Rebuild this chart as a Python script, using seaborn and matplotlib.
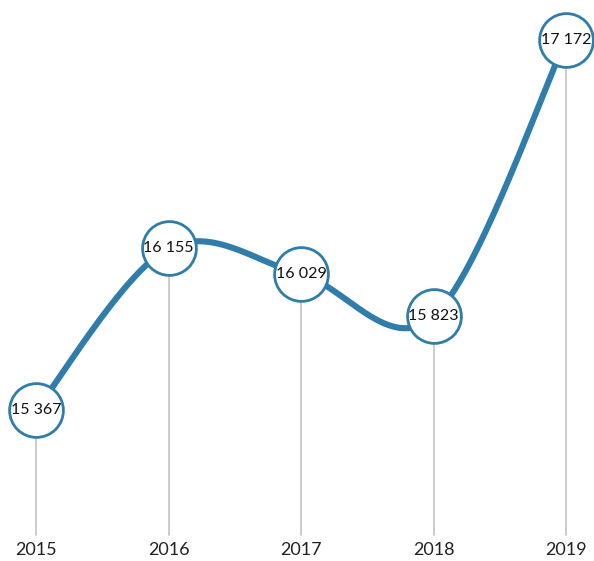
import numpy as np
import pandas as pd
import matplotlib
matplotlib.use("Agg")
import matplotlib.pyplot as plt
import seaborn as sns

years = [2015, 2016, 2017, 2018, 2019]
values = [15367, 16155, 16029, 15823, 17172]
labels = ["15 367", "16 155", "16 029", "15 823", "17 172"]

sns.set_theme(style="white")
plt.rcParams["font.family"] = ["Lato", "DejaVu Sans"]

BLUE = "#2f7dab"

fig = plt.figure(figsize=(5.94, 5.61), dpi=100)
ax = fig.add_axes([0, 0, 1, 1])
ax.set_xlim(2014.728, 2019.211)
ax.set_ylim(14630, 17367)
ax.axis("off")

# Catmull-Rom (cardinal) smoothing of the line between data points
x = np.array(years, dtype=float)
y = np.array(values, dtype=float)
px = np.concatenate([[x[0]], x, [x[-1]]])
py = np.concatenate([[y[0]], y, [y[-1]]])
sx, sy = [], []
for i in range(1, len(px) - 2):
    p0 = np.array([px[i - 1], py[i - 1]])
    p1 = np.array([px[i], py[i]])
    p2 = np.array([px[i + 1], py[i + 1]])
    p3 = np.array([px[i + 2], py[i + 2]])
    m1 = (p2 - p0) / 2
    m2 = (p3 - p1) / 2
    t = np.linspace(0, 1, 60)[:, None]
    h00 = 2 * t**3 - 3 * t**2 + 1
    h10 = t**3 - 2 * t**2 + t
    h01 = -2 * t**3 + 3 * t**2
    h11 = t**3 - t**2
    pts = h00 * p1 + h10 * m1 + h01 * p2 + h11 * m2
    sx.extend(pts[:, 0])
    sy.extend(pts[:, 1])
curve = pd.DataFrame({"x": sx, "y": sy})

base = 14757
for xi, yi in zip(years, values):
    ax.plot([xi, xi], [base, yi], color="#c8c8c8", lw=1.3, zorder=1)

sns.lineplot(data=curve, x="x", y="y", sort=False, color=BLUE, lw=4.4,
             ax=ax, zorder=2, estimator=None)

df = pd.DataFrame({"year": years, "value": values})
sns.scatterplot(data=df, x="year", y="value", s=1500, color="white",
                edgecolor=BLUE, linewidth=2.0, ax=ax, zorder=3)

for xi, yi, lab in zip(years, values, labels):
    ax.text(xi, yi, lab, ha="center", va="center", fontsize=11.5,
            color="#111111", zorder=4)
    ax.text(xi, 14682, str(xi), ha="center", va="center", fontsize=13,
            color="#222222")

ax.set_xlabel("")
ax.set_ylabel("")
fig.savefig("out.png", dpi=100)
